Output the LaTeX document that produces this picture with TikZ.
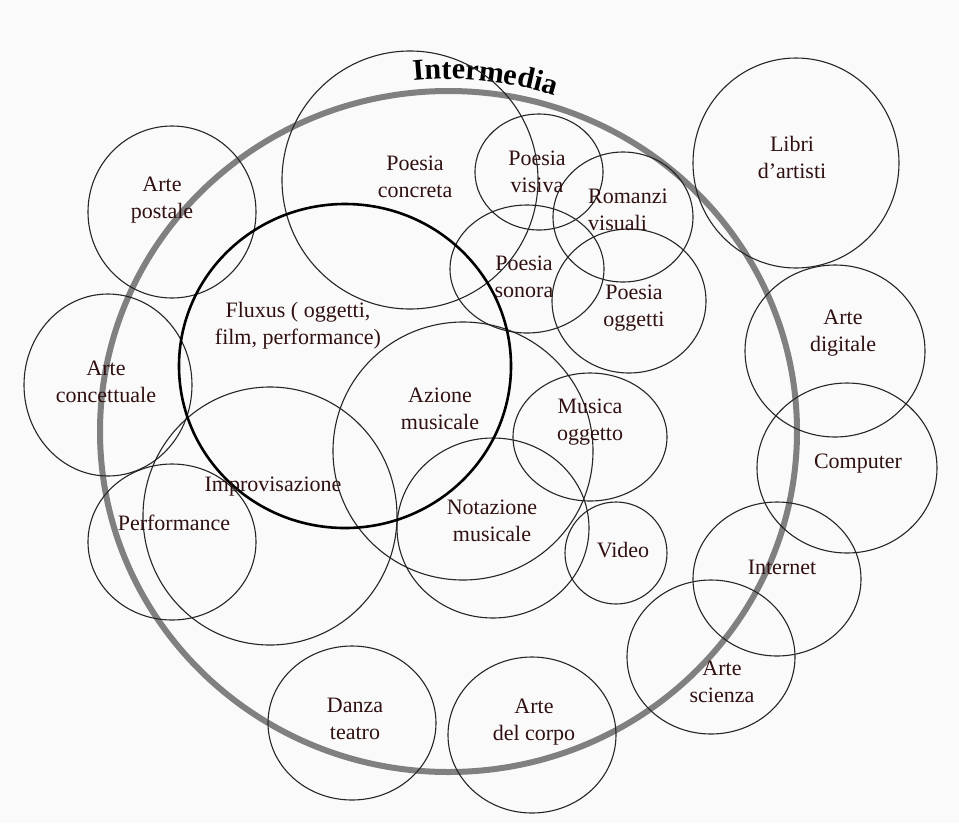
\documentclass[tikz,border=0pt]{standalone}
\usepackage{fontspec}
\setmainfont{Liberation Serif}
\usetikzlibrary{decorations.text}
\definecolor{ink}{RGB}{48,16,16}
\definecolor{paper}{RGB}{250,250,250}

\begin{document}
\begin{tikzpicture}[x=1pt,y=-1pt,
  zone/.style={draw=black!85,line width=1.1pt},
  tag/.style={align=center,text=ink,inner sep=0pt,font=\fontsize{22}{27}\selectfont}]
\useasboundingbox[fill=paper] (0,0) rectangle (959,823);

% the big ring
\draw[line width=6pt,color=black!50] (448.5,431.5) ellipse[x radius=348.5,y radius=340.5];
\path[decorate,decoration={text along path,text align=center,
  text={|\fontsize{30}{30}\selectfont\bfseries|Intermedia}}]
  (448,431) ++(-104:352) arc[start angle=-104,end angle=-64,radius=352];

% circles
\draw[zone] (172,212) ellipse[x radius=84,y radius=86];
\draw[zone] (410,180) ellipse[x radius=128,y radius=129];
\draw[zone] (108,385) ellipse[x radius=84,y radius=91];
\draw[zone] (463,451) ellipse[x radius=130,y radius=129];
\draw[zone] (539,172) ellipse[x radius=64,y radius=58];
\draw[zone] (623,217) ellipse[x radius=70,y radius=65];
\draw[zone] (527,269) ellipse[x radius=77,y radius=64];
\draw[zone] (629,301) ellipse[x radius=77,y radius=72];
\draw[zone] (796,163) ellipse[x radius=103,y radius=105];
\draw[zone] (835,351) ellipse[x radius=90,y radius=86];
\draw[zone] (847,468) ellipse[x radius=90,y radius=85];
\draw[zone] (590,437) ellipse[x radius=77,y radius=64];
\draw[zone] (493,528) ellipse[x radius=96,y radius=90];
\draw[zone] (616,553) ellipse[x radius=51,y radius=51];
\draw[zone] (777,579) ellipse[x radius=84,y radius=77];
\draw[zone] (711,657) ellipse[x radius=84,y radius=77];
\draw[zone] (532,735) ellipse[x radius=84,y radius=78];
\draw[zone] (352,723) ellipse[x radius=84,y radius=77];
\draw[zone] (270,516) ellipse[x radius=127,y radius=129];
\draw[zone] (172,542) ellipse[x radius=84,y radius=78];
\draw[zone,line width=2.6pt,draw=black] (345,366) ellipse[x radius=166,y radius=162];

% labels
\node[tag] (postale) at (162,200) {Arte\\postale};
\node[tag] (concreta) at (415,177) {Poesia\\concreta};
\node[tag] (fluxus) at (298,326) {Fluxus ( oggetti,\\film, performance)};
\node[tag] (concettuale) at (106,382) {Arte\\concettuale};
\node[tag] (azione) at (440,409) {Azione\\musicale};
\node[tag] (visiva) at (537,172) {Poesia\\visiva};
\node[tag,align=left,anchor=west] (romanzi) at (588,210) {Romanzi\\visuali};
\node[tag] (sonora) at (524,277) {Poesia\\sonora};
\node[tag] (oggetti) at (634,308) {Poesia\\oggetti};
\node[tag] (libri) at (792,157) {Libri\\d’artisti};
\node[tag] (digitale) at (843,333) {Arte\\digitale};
\node[tag] (musica) at (590,422) {Musica\\oggetto};
\node[tag] (computer) at (858,464) {Computer};
\node[tag] (notazione) at (492,521) {Notazione\\musicale};
\node[tag] (video) at (623,550) {Video};
\node[tag] (internet) at (782,567) {Internet};
\node[tag] (scienza) at (722,682) {Arte\\scienza};
\node[tag] (corpo) at (534,722) {Arte\\del corpo};
\node[tag] (danza) at (355,719) {Danza\\teatro};
\node[tag] (improv) at (273,487) {Improvisazione};
\node[tag] (performance) at (174,523) {Performance};
\end{tikzpicture}
\end{document}
